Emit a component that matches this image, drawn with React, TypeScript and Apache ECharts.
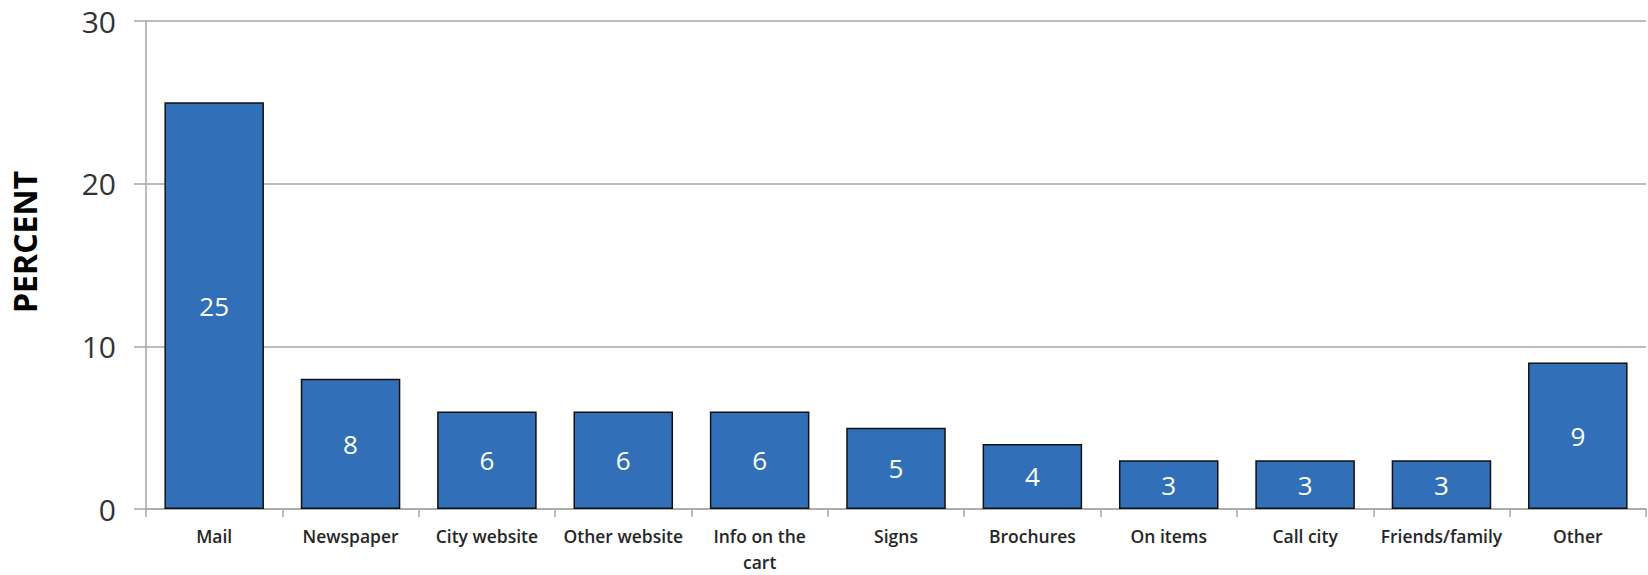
import React, { useEffect, useRef } from "react";
import * as echarts from "echarts";

const categories = [
  "Mail",
  "Newspaper",
  "City website",
  "Other website",
  "Info on the cart",
  "Signs",
  "Brochures",
  "On items",
  "Call city",
  "Friends/family",
  "Other",
];
const percentValues = [25, 8, 6, 6, 6, 5, 4, 3, 3, 3, 9];
const yTicks = { min: 0, max: 30, interval: 10 };
const yAxisTitle = "PERCENT";

export default function App() {
  const ref = useRef<HTMLDivElement>(null);
  useEffect(() => {
    document.body.style.margin = "0";
    if (!ref.current) return;
    const chart = echarts.init(ref.current, undefined, { renderer: "svg" });
    chart.setOption({
      animation: false,
      backgroundColor: "#ffffff",
      grid: { left: 146, right: 2, top: 21, bottom: 64, containLabel: false },
      xAxis: {
        type: "category",
        data: categories,
        axisLine: { show: true, lineStyle: { color: "#a6a6a6", width: 1.5 } },
        axisTick: { show: true, length: 8, lineStyle: { color: "#a6a6a6", width: 1.5 } },
        axisLabel: {
          interval: 0,
          margin: 14,
          color: "#262626",
          fontFamily: "Open Sans",
          fontWeight: 600,
          fontSize: 17.5,
          lineHeight: 26,
          formatter: (v: string) => (v === "Info on the cart" ? "Info on the\ncart" : v),
        },
      },
      yAxis: {
        type: "value",
        min: yTicks.min,
        max: yTicks.max,
        interval: yTicks.interval,
        axisLine: { show: true, lineStyle: { color: "#a6a6a6", width: 1.5 } },
        axisTick: { show: true, length: 12, lineStyle: { color: "#a6a6a6", width: 1.5 } },
        splitLine: { show: true, lineStyle: { color: "#a6a6a6", width: 1.5 } },
        axisLabel: {
          margin: 30,
          color: "#333333",
          fontFamily: "Open Sans",
          fontWeight: 500,
          fontSize: 30,
        },
      },
      graphic: [
        {
          type: "text",
          x: 24,
          y: 242,
          rotation: Math.PI / 2,
          style: {
            text: yAxisTitle,
            fontFamily: "Open Sans",
            fontWeight: "bold",
            fontSize: 32,
            fill: "#000000",
            align: "center",
            verticalAlign: "middle",
          },
        },
      ],
      series: [
        {
          type: "bar",
          data: percentValues,
          barCategoryGap: "27%",
          itemStyle: { color: "#3170b8", borderColor: "#111111", borderWidth: 1.5 },
          label: {
            show: true,
            position: "inside",
            color: "#ffffff",
            fontFamily: "Open Sans",
            fontSize: 26,
          },
        },
      ],
    });
    return () => chart.dispose();
  }, []);
  return <div ref={ref} style={{ width: 1648, height: 575 }} />;
}
